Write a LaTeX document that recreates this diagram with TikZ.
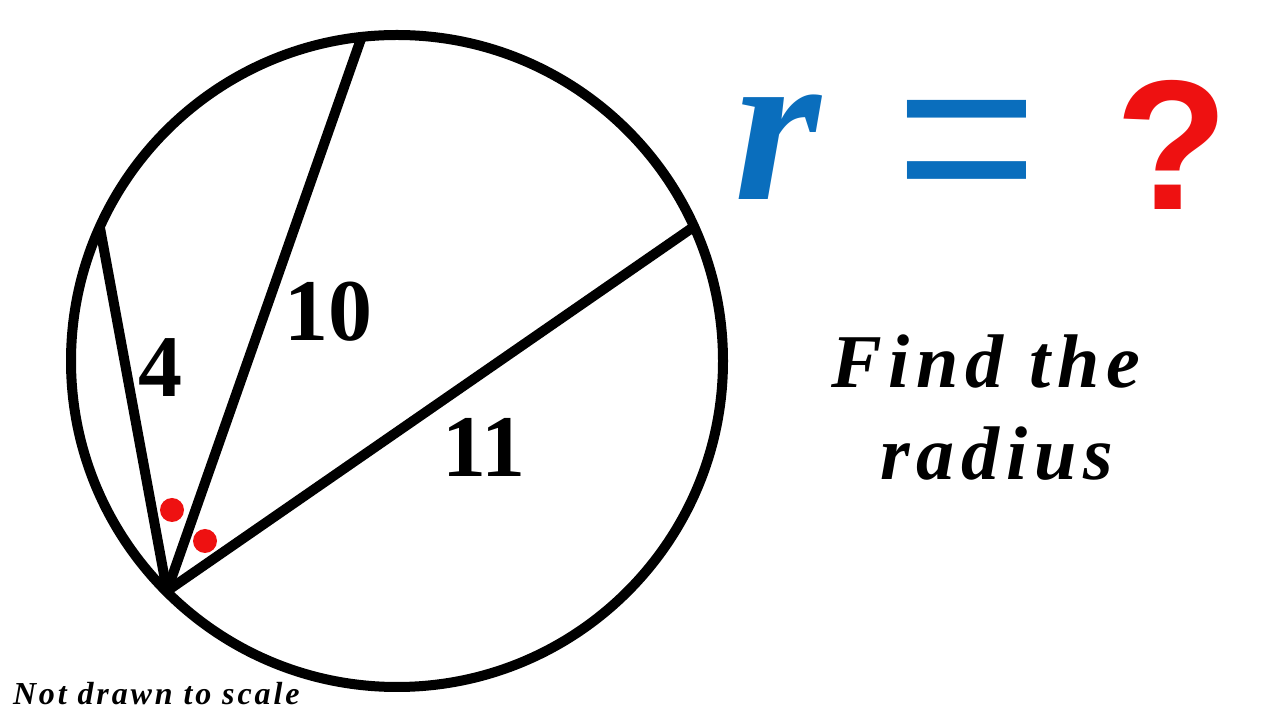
\documentclass[tikz,border=0pt]{standalone}
\usepackage{fontspec}
\setmainfont{Liberation Serif}
\newfontfamily\labelfont[LetterSpace=9]{Liberation Serif}
\newfontfamily\notefont[LetterSpace=9]{Liberation Serif}
\newfontfamily\signfont{Liberation Sans}
\definecolor{rblue}{HTML}{0A6EBD}
\definecolor{dotred}{HTML}{EE1111}
\begin{document}
\begin{tikzpicture}[x=1pt, y=1pt, line width=10pt,
  seglabel/.style={font=\fontsize{88}{88}\selectfont\bfseries, inner sep=0pt},
  angdot/.style={fill=dotred, draw=none}]

  \useasboundingbox (0,0) rectangle (1280,720);

  % Define circle and chord end points
  \coordinate (O) at (397,359);  % centre
  \coordinate (P) at (167,129);  % common end, bottom left
  \coordinate (A) at (100,492);  % left
  \coordinate (B) at (362,684);  % top
  \coordinate (C) at (692,492);  % right

  % Draw circle and chords
  \draw (O) circle [radius=326pt];
  \draw (P) -- (A);
  \draw (P) -- (B);
  \draw (P) -- (C);

  % Equal angle marks
  \fill[angdot] (172,210) circle [radius=12pt];
  \fill[angdot] (205,179) circle [radius=12pt];

  % Chord lengths
  \node[seglabel] (four) at (160,352) {4};
  \node[seglabel] (ten) at (328,408) {10};
  \node[seglabel] (eleven) at (484,273) {11};

  % Question
  \node[font=\fontsize{222}{222}\selectfont\bfseries\itshape, text=rblue, inner sep=0pt, anchor=base] (rr) at (778,520) {r};
  \node[font=\signfont\fontsize{245}{245}\selectfont, text=rblue, inner sep=0pt] (eq) at (967,560) {=};
  \node[font=\signfont\fontsize{185}{185}\selectfont\bfseries, text=dotred, inner sep=0pt] (qm) at (1172,575) {?};

  \node[font=\labelfont\fontsize{76}{76}\selectfont\bfseries\itshape, inner sep=0pt, anchor=base] (find) at (986,332) {Find the};
  \node[font=\labelfont\fontsize{76}{76}\selectfont\bfseries\itshape, inner sep=0pt, anchor=base] (rad) at (997,240) {radius};

  \node[font=\notefont\fontsize{32}{32}\selectfont\bfseries\itshape, inner sep=0pt, anchor=base west] (note) at (8,15) {Not drawn to scale};

\end{tikzpicture}
\end{document}
